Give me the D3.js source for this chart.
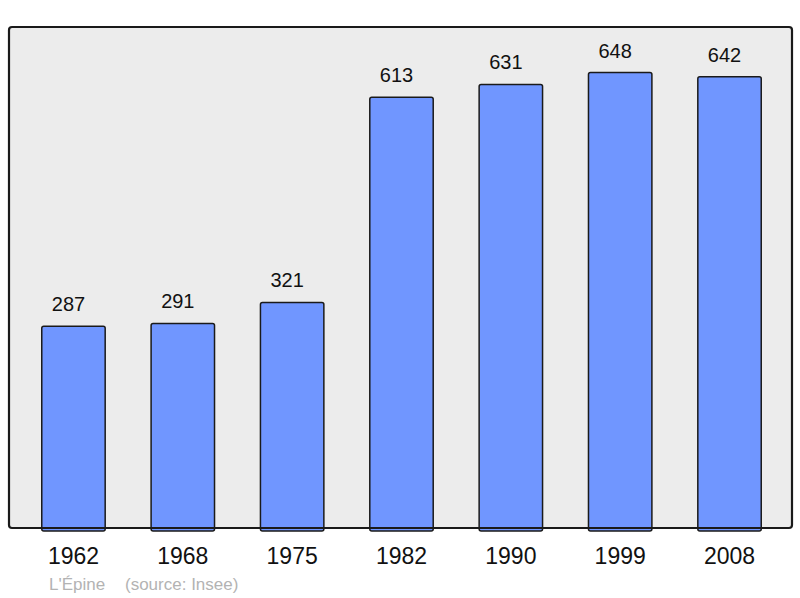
<!DOCTYPE html>
<html>
<head>
<meta charset="utf-8">
<script src="https://cdn.jsdelivr.net/npm/d3@7"></script>
<style>
  body { margin: 0; background: #fff; }
  svg { display: block; font-family: "Liberation Sans", Arial, sans-serif; }
</style>
</head>
<body>
<div id="chart"></div>
<script>
// data
const years = ["1962", "1968", "1975", "1982", "1990", "1999", "2008"];
const population = [287, 291, 321, 613, 631, 648, 642];
const townName = "L'Épine";
const sourceText = "(source: Insee)";

const W = 800, H = 598;
const frame = { left: 9, top: 27, right: 792, bottom: 528 };

const svg = d3.select("#chart").append("svg")
    .attr("width", W)
    .attr("height", H);

// plot background
svg.append("rect")
    .attr("x", frame.left)
    .attr("y", frame.top)
    .attr("width", frame.right - frame.left)
    .attr("height", frame.bottom - frame.top)
    .attr("rx", 3)
    .attr("fill", "#ececec");

// scales
const x = d3.scaleBand()
    .domain(years)
    .range([18.8, 784.2])
    .paddingInner(0.42)
    .paddingOuter(0.21);

const y = d3.scaleLinear()
    .domain([0, d3.max(population) * 1.1])
    .range([frame.bottom, frame.top]);

const data = years.map((yr, i) => ({ year: yr, value: population[i] }));

// bars
svg.selectAll("rect.bar")
    .data(data)
    .enter()
    .append("rect")
    .attr("class", "bar")
    .attr("x", d => x(d.year))
    .attr("y", d => y(d.value))
    .attr("width", x.bandwidth())
    .attr("height", d => y(0) - y(d.value) + 3)
    .attr("rx", 2)
    .attr("fill", "#7096ff")
    .attr("stroke", "#1a1a1a")
    .attr("stroke-width", 1.5);

// value labels (sit a little left of the bar centre, like the original)
svg.selectAll("text.val")
    .data(data)
    .enter()
    .append("text")
    .attr("class", "val")
    .attr("x", d => x(d.year) + x.bandwidth() / 2 - 5)
    .attr("y", d => y(d.value) - 15)
    .attr("text-anchor", "middle")
    .style("font-size", "20px")
    .attr("fill", "#111")
    .text(d => d.value);

// frame border on top
svg.append("rect")
    .attr("x", frame.left)
    .attr("y", frame.top)
    .attr("width", frame.right - frame.left)
    .attr("height", frame.bottom - frame.top)
    .attr("rx", 3)
    .attr("fill", "none")
    .attr("stroke", "#1a1a1a")
    .attr("stroke-width", 2.2);

// x axis labels
const xAxis = svg.append("g")
    .attr("transform", `translate(0,${frame.bottom})`)
    .call(d3.axisBottom(x).tickSize(0).tickPadding(20));
xAxis.select(".domain").remove();
xAxis.selectAll("text")
    .style("font-size", "23px")
    .style("font-family", "'Liberation Sans', Arial, sans-serif")
    .attr("fill", "#111");

// footer
svg.append("text")
    .attr("x", 49)
    .attr("y", 590)
    .style("font-size", "17px")
    .attr("fill", "#b3b3b3")
    .text(townName);

svg.append("text")
    .attr("x", 125)
    .attr("y", 590)
    .style("font-size", "17px")
    .attr("fill", "#b3b3b3")
    .text(sourceText);
</script>
</body>
</html>
